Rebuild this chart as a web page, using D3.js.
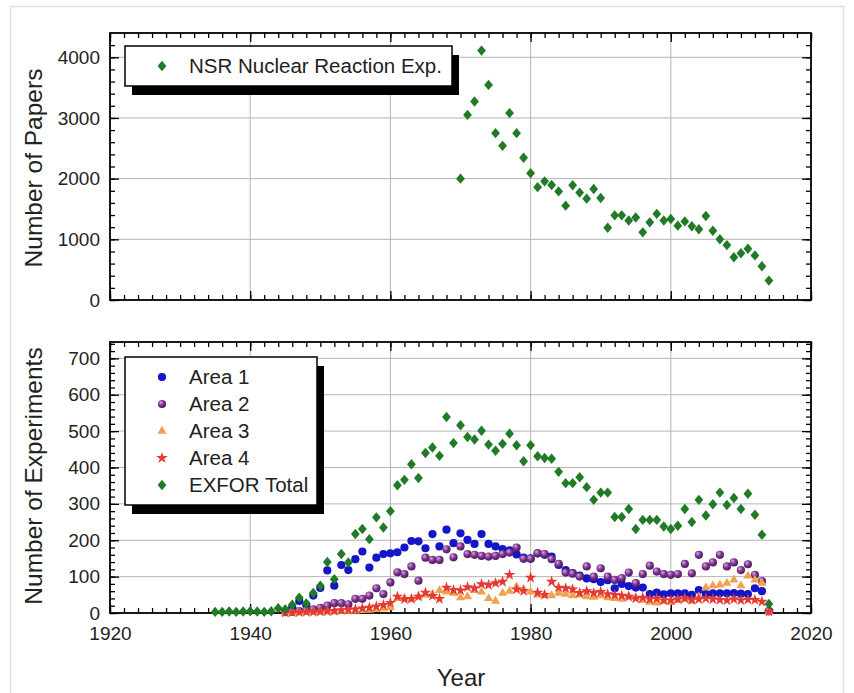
<!DOCTYPE html>
<html>
<head>
<meta charset="utf-8">
<script src="https://cdn.jsdelivr.net/npm/d3@7"></script>
<style>
  body { margin: 0; background: #fff; }
  svg { display: block; font-family: "Liberation Sans", Arial, sans-serif; }
</style>
</head>
<body>
<div id="chart"></div>
<script>
// NSR papers per year (top panel)
const nsrYears = [1970,1971,1972,1973,1974,1975,1976,1977,1978,1979,1980,1981,1982,1983,1984,1985,1986,1987,1988,1989,
  1990,1991,1992,1993,1994,1995,1996,1997,1998,1999,2000,2001,2002,2003,2004,2005,2006,2007,2008,2009,2010,2011,2012,2013,2014];
const nsrPapers = [2000,3050,3270,4110,3545,2750,2540,3080,2750,2345,2090,1860,1955,1895,1790,1555,1890,1770,1670,1830,
  1680,1190,1395,1395,1310,1360,1115,1280,1420,1310,1335,1225,1295,1215,1165,1385,1140,1000,905,705,770,845,735,555,320];

// EXFOR experiments per year (bottom panel)
const totalYears = [1935,1936,1937,1938,1939,1940,1941,1942,1943,1944];
const exforYears = [1945,1946,1947,1948,1949,1950,1951,1952,1953,1954,1955,1956,1957,1958,1959,
  1960,1961,1962,1963,1964,1965,1966,1967,1968,1969,1970,1971,1972,1973,1974,1975,1976,1977,1978,1979,
  1980,1981,1982,1983,1984,1985,1986,1987,1988,1989,1990,1991,1992,1993,1994,1995,1996,1997,1998,1999,
  2000,2001,2002,2003,2004,2005,2006,2007,2008,2009,2010,2011,2012,2013,2014];
const earlyTotal = [3,3,4,3,4,5,4,3,5,13];
const exforTotal = [10,23,42,26,55,75,140,93,162,139,217,231,203,263,235,
  280,351,366,409,371,440,455,432,539,467,516,484,477,501,463,446,465,493,461,417,
  461,431,426,424,388,357,357,373,346,311,331,331,264,264,286,231,256,256,256,238,
  231,240,286,250,311,268,299,331,297,316,286,328,270,215,25];
const area1 = [4,16,33,22,48,69,117,75,132,118,148,169,125,152,162,
  164,167,180,198,197,178,217,183,229,192,219,201,190,217,190,183,176,172,161,152,
  150,164,160,155,132,118,110,103,95,93,85,90,68,80,74,70,70,52,56,51,
  54,54,54,50,63,52,54,54,54,55,53,52,68,60,5];
const area2 = [2,3,5,7,10,14,20,27,27,24,39,39,48,68,52,
  84,112,107,128,89,152,146,146,175,153,183,162,160,157,155,157,162,166,180,149,
  149,164,162,148,135,111,108,100,128,100,123,100,91,96,111,82,107,130,114,107,
  105,107,135,109,160,128,139,160,128,139,118,134,105,88,5];
const area3 = [1,1,2,2,3,3,4,4,5,5,6,7,8,10,12,
  15,40,40,38,45,50,52,62,58,55,42,45,62,58,40,33,55,60,72,65,
  58,50,50,48,55,52,48,50,45,44,48,42,40,38,45,42,35,30,28,32,
  30,35,38,33,45,70,75,77,82,91,75,102,91,82,3];
const area4 = [1,2,2,3,3,4,5,6,8,9,10,13,15,18,22,
  28,45,38,39,45,56,47,39,70,63,62,71,68,79,77,82,86,105,65,61,
  97,56,50,86,70,68,65,55,60,55,58,52,50,48,45,40,42,38,40,35,
  35,38,40,36,38,40,38,36,35,38,35,37,36,31,4];

const xTicks = [1920,1940,1960,1980,2000,2020];
const topTicks = [0,1000,2000,3000,4000];
const botTicks = [0,100,200,300,400,500,600,700];

const width = 854, height = 693;
const left = 110, right = 811;
const topPanel = {y0: 33, y1: 300};
const botPanel = {y0: 342, y1: 613};

const svg = d3.select("#chart").append("svg")
  .attr("width", width).attr("height", height);

// faint outer frame of the original screenshot
svg.append("rect").attr("x", 10.5).attr("y", 6.5).attr("width", 833).attr("height", 700)
  .attr("fill", "none").attr("stroke", "#d3e2ef").attr("stroke-width", 1.5);

const defs = svg.append("defs");
const grad = defs.append("radialGradient").attr("id", "purpleBall")
  .attr("cx", "40%").attr("cy", "40%").attr("r", "60%").attr("fx", "35%").attr("fy", "30%");
grad.append("stop").attr("offset", "0%").attr("stop-color", "#d9a9df");
grad.append("stop").attr("offset", "55%").attr("stop-color", "#7d3590");
grad.append("stop").attr("offset", "100%").attr("stop-color", "#4e1660");

const x = d3.scaleLinear().domain([1920, 2020]).range([left, right]);
const yTop = d3.scaleLinear().domain([0, 4400]).range([topPanel.y1, topPanel.y0]);
const yBot = d3.scaleLinear().domain([0, 745]).range([botPanel.y1, botPanel.y0]);

const minorX = d3.range(1920, 2021, 2);

function panel(y, p, majors, minorStep, showXLabels) {
  const g = svg.append("g");
  // grid
  g.selectAll(".gx").data(xTicks.slice(1, -1)).enter().append("line")
    .attr("x1", d => x(d)).attr("x2", d => x(d))
    .attr("y1", p.y0).attr("y2", p.y1)
    .attr("stroke", "#b5b5b5").attr("stroke-width", 1);
  g.selectAll(".gy").data(majors.filter(v => v > 0)).enter().append("line")
    .attr("x1", left).attr("x2", right)
    .attr("y1", d => y(d)).attr("y2", d => y(d))
    .attr("stroke", "#b5b5b5").attr("stroke-width", 1);

  const minorY = d3.range(0, y.domain()[1], minorStep);

  const styleAxis = sel => {
    sel.select(".domain").remove();
    sel.selectAll("line").attr("stroke", "#000").attr("stroke-width", 1.3);
    sel.selectAll("text").attr("fill", "#222").style("font-size", "19px")
      .style("font-family", "'Liberation Sans', Arial, sans-serif");
  };

  // left
  g.append("g").attr("transform", `translate(${left},0)`)
    .call(d3.axisLeft(y).tickValues(majors).tickSizeInner(-9).tickSizeOuter(0).tickPadding(10).tickFormat(d3.format("d")))
    .call(styleAxis);
  g.append("g").attr("transform", `translate(${left},0)`)
    .call(d3.axisLeft(y).tickValues(minorY).tickSizeInner(-5).tickSizeOuter(0).tickFormat(""))
    .call(styleAxis);
  // right
  g.append("g").attr("transform", `translate(${right},0)`)
    .call(d3.axisRight(y).tickValues(majors).tickSizeInner(-9).tickSizeOuter(0).tickFormat(""))
    .call(styleAxis);
  g.append("g").attr("transform", `translate(${right},0)`)
    .call(d3.axisRight(y).tickValues(minorY).tickSizeInner(-5).tickSizeOuter(0).tickFormat(""))
    .call(styleAxis);
  // top
  g.append("g").attr("transform", `translate(0,${p.y0})`)
    .call(d3.axisTop(x).tickValues(xTicks).tickSizeInner(-9).tickSizeOuter(0).tickFormat(""))
    .call(styleAxis);
  g.append("g").attr("transform", `translate(0,${p.y0})`)
    .call(d3.axisTop(x).tickValues(minorX).tickSizeInner(-5).tickSizeOuter(0).tickFormat(""))
    .call(styleAxis);
  // bottom
  g.append("g").attr("transform", `translate(0,${p.y1})`)
    .call(d3.axisBottom(x).tickValues(xTicks).tickSizeInner(-9).tickSizeOuter(0).tickPadding(14)
      .tickFormat(showXLabels ? d3.format("d") : ""))
    .call(styleAxis);
  g.append("g").attr("transform", `translate(0,${p.y1})`)
    .call(d3.axisBottom(x).tickValues(minorX).tickSizeInner(-5).tickSizeOuter(0).tickFormat(""))
    .call(styleAxis);

  // frame
  g.append("rect").attr("x", left).attr("y", p.y0)
    .attr("width", right - left).attr("height", p.y1 - p.y0)
    .attr("fill", "none").attr("stroke", "#000").attr("stroke-width", 1.8);
  return g;
}

panel(yTop, topPanel, topTicks, 200, false);
panel(yBot, botPanel, botTicks, 20, true);

// marker shapes
const diamondPath = "M0,-5.2L4.4,0L0,5.2L-4.4,0Z";
const triPath = d3.symbol(d3.symbolTriangle, 36)();
const starPath = d3.symbol(d3.symbolStar, 42)();

const styles = {
  green:  {d: diamondPath, fill: "#217a25"},
  blue:   {circle: true, fill: "#1414c8"},
  purple: {circle: true, fill: "url(#purpleBall)"},
  orange: {d: triPath, fill: "#f2a04e"},
  red:    {d: starPath, fill: "#e53a34"}
};

function drawMarker(sel, st) {
  if (st.circle) {
    sel.append("circle").attr("r", 4.1).attr("fill", st.fill);
  } else {
    sel.append("path").attr("d", st.d).attr("fill", st.fill);
  }
}

function drawSeries(years, values, y, st) {
  const g = svg.append("g");
  const pts = g.selectAll("g").data(years.map((yr, i) => [yr, values[i]])).enter().append("g")
    .attr("transform", d => `translate(${x(d[0])},${y(d[1])})`);
  drawMarker(pts, st);
}

// top data
drawSeries(nsrYears, nsrPapers, yTop, styles.green);

// bottom data
drawSeries(exforYears, area1, yBot, styles.blue);
drawSeries(exforYears, area2, yBot, styles.purple);
drawSeries(exforYears, area3, yBot, styles.orange);
drawSeries(exforYears, area4, yBot, styles.red);
drawSeries(totalYears, earlyTotal, yBot, styles.green);
drawSeries(exforYears, exforTotal, yBot, styles.green);

// legends
function legend(x0, y0, w, entries) {
  const h = 14 + entries.length * 27 - 1;
  const g = svg.append("g");
  g.append("rect").attr("x", x0 + 7).attr("y", y0 + 9).attr("width", w).attr("height", h).attr("fill", "#000");
  g.append("rect").attr("x", x0).attr("y", y0).attr("width", w).attr("height", h)
    .attr("fill", "#fff").attr("stroke", "#000").attr("stroke-width", 1.5);
  entries.forEach((e, i) => {
    const cy = y0 + 20 + i * 27;
    const m = g.append("g").attr("transform", `translate(${x0 + 37},${cy})`);
    drawMarker(m, e.style);
    g.append("text").attr("x", x0 + 64).attr("y", cy + 7)
      .style("font-size", "20.5px").attr("fill", "#222").text(e.label);
  });
}

legend(125, 46, 327, [{label: "NSR Nuclear Reaction Exp.", style: styles.green}]);
legend(125, 357, 192, [
  {label: "Area 1", style: styles.blue},
  {label: "Area 2", style: styles.purple},
  {label: "Area 3", style: styles.orange},
  {label: "Area 4", style: styles.red},
  {label: "EXFOR Total", style: styles.green}
]);

// axis titles
svg.append("text").attr("transform", "translate(42,168) rotate(-90)")
  .attr("text-anchor", "middle").style("font-size", "24.5px").attr("fill", "#222")
  .text("Number of Papers");
svg.append("text").attr("transform", "translate(42,476) rotate(-90)")
  .attr("text-anchor", "middle").style("font-size", "24.5px").attr("fill", "#222")
  .text("Number of Experiments");
svg.append("text").attr("x", 461).attr("y", 686)
  .attr("text-anchor", "middle").style("font-size", "24px").attr("fill", "#222")
  .text("Year");
</script>
</body>
</html>
